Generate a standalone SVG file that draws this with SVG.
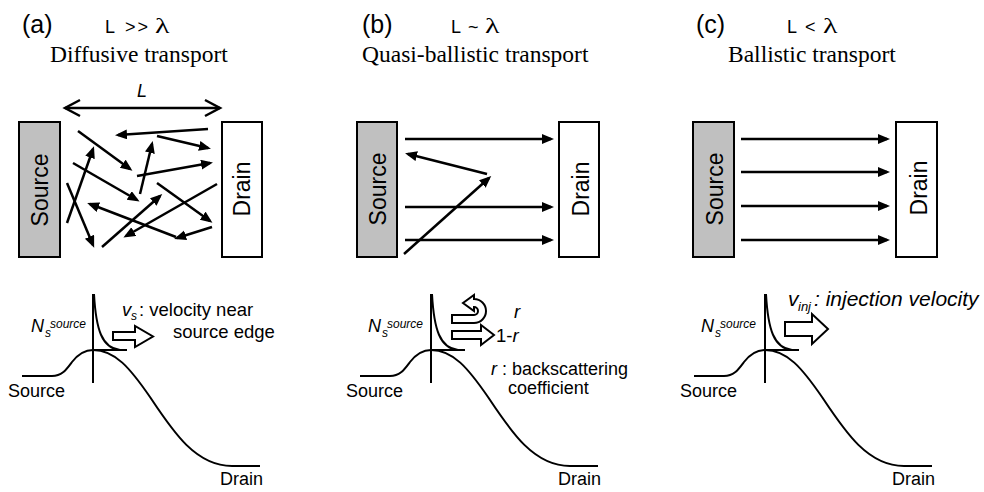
<svg xmlns="http://www.w3.org/2000/svg" width="984" height="492" viewBox="0 0 984 492">
<style>
text{font-family:"Liberation Sans",Arial,sans-serif;fill:#000}
.serif{font-family:"Liberation Serif","Times New Roman",serif;font-size:23.5px}
.it{font-style:italic}
.tag{font-size:25px}
.lt{font-size:18px}
.lam{font-family:"Liberation Serif","Times New Roman",serif;font-size:20px}
.box{stroke:#000;stroke-width:2}
.src{fill:#c0c0c0}
.drn{fill:#fff}
.lab{font-size:23px}
.ar{stroke:#000;stroke-width:2.5;fill:none;marker-end:url(#ah)}
.dim{stroke:#000;stroke-width:2.5;fill:none}
.curve{stroke:#000;stroke-width:2;fill:none}
.hollow{fill:#fff;stroke:#000;stroke-width:2}
.b{font-size:18.5px}
</style>
<defs>
<marker id="ah" markerUnits="userSpaceOnUse" markerWidth="13" markerHeight="11" refX="9" refY="5" orient="auto"><path d="M0,0 L12,5 L0,10 z" fill="#000"/></marker>
<g id="band">
<line x1="93" y1="294" x2="93" y2="383"/>
<path d="M94,294 C96,330 102,348 120,350"/>
<line x1="93" y1="350" x2="127" y2="350"/>
<path d="M22,376 H52 C62,376 66,370 72,362 C79,353 85,350 93,350 C115,350 130,368 150,397 C172,430 195,466 232,466 H260"/>
</g>
</defs>
<rect width="984" height="492" fill="#fff"/>

<!-- titles -->
<g id="titles">
<text class="tag" x="22" y="33">(a)</text>
<text class="lt" x="105" y="33">L</text>
<text class="lt" x="125" y="33" letter-spacing="2">&gt;&gt;</text>
<text class="lam" transform="translate(155,33) scale(1.5,1)">λ</text>
<text class="serif" x="50" y="62">Diffusive transport</text>

<text class="tag" x="362" y="33">(b)</text>
<text class="lt" x="451" y="33">L</text>
<text class="lt" x="468" y="33">~</text>
<text class="lam" transform="translate(485,33) scale(1.5,1)">λ</text>
<text class="serif" x="362" y="62">Quasi-ballistic transport</text>

<text class="tag" x="696" y="33">(c)</text>
<text class="lt" x="787" y="33">L</text>
<text class="lt" x="805" y="33">&lt;</text>
<text class="lam" transform="translate(823,33) scale(1.5,1)">λ</text>
<text class="serif" x="728" y="62">Ballistic transport</text>
</g>

<!-- nodes -->
<g id="source-a"><rect class="box src" x="19" y="122" width="41" height="135"/><text class="lab" text-anchor="middle" transform="translate(48,190) rotate(-90)">Source</text></g>
<g id="drain-a"><rect class="box drn" x="222" y="122" width="40" height="135"/><text class="lab" text-anchor="middle" transform="translate(250,189) rotate(-90)">Drain</text></g>
<g id="source-b"><rect class="box src" x="357" y="122" width="40" height="135"/><text class="lab" text-anchor="middle" transform="translate(386,189) rotate(-90)">Source</text></g>
<g id="drain-b"><rect class="box drn" x="559" y="122" width="40" height="135"/><text class="lab" text-anchor="middle" transform="translate(589,189) rotate(-90)">Drain</text></g>
<g id="source-c"><rect class="box src" x="693" y="122" width="41" height="135"/><text class="lab" text-anchor="middle" transform="translate(723,189) rotate(-90)">Source</text></g>
<g id="drain-c"><rect class="box drn" x="896" y="122" width="41" height="135"/><text class="lab" text-anchor="middle" transform="translate(927,188) rotate(-90)">Drain</text></g>

<!-- connectors -->
<g id="connectors">
<g class="dim">
<path d="M65,108 H220"/>
<path d="M80,100 L65,108 L80,116"/>
<path d="M205,100 L220,108 L205,116"/>
</g>
<text class="it" font-size="18" x="137" y="97">L</text>
<g class="ar">
<line x1="208" y1="129" x2="118" y2="135"/>
<line x1="78" y1="131" x2="130" y2="169"/>
<line x1="157" y1="136" x2="208" y2="148"/>
<line x1="137" y1="176" x2="210" y2="163"/>
<line x1="140" y1="194" x2="152" y2="144"/>
<line x1="73" y1="163" x2="137" y2="200"/>
<line x1="67" y1="223" x2="93" y2="149"/>
<line x1="67" y1="183" x2="93" y2="245"/>
<line x1="102" y1="247" x2="160" y2="196"/>
<line x1="157" y1="183" x2="210" y2="221"/>
<line x1="217" y1="184" x2="126" y2="236"/>
<line x1="212" y1="227" x2="177" y2="238"/>
<line x1="176" y1="237" x2="90" y2="204"/>

<line x1="405" y1="139" x2="551" y2="139"/>
<line x1="487" y1="174" x2="408" y2="154"/>
<line x1="405" y1="207" x2="551" y2="207"/>
<line x1="405" y1="240" x2="551" y2="240"/>
<line x1="404" y1="254" x2="489" y2="178"/>

<line x1="741" y1="139" x2="887" y2="139"/>
<line x1="741" y1="172" x2="887" y2="172"/>
<line x1="741" y1="206" x2="887" y2="206"/>
<line x1="741" y1="240" x2="887" y2="240"/>
</g>
</g>

<!-- bottom band diagrams -->
<g id="bands" class="curve">
<use href="#band"/>
<use href="#band" transform="translate(338,0)"/>
<use href="#band" transform="translate(672,0)"/>
</g>

<g id="band-labels">
<text font-size="18" x="8" y="397">Source</text>
<text font-size="18" x="220" y="485">Drain</text>
<text font-size="18" x="346" y="397">Source</text>
<text font-size="18" x="558" y="485">Drain</text>
<text font-size="18" x="680" y="397">Source</text>
<text font-size="18" x="892" y="485">Drain</text>

<text class="it"><tspan x="31" y="332" font-size="18">N</tspan><tspan x="45" y="337" font-size="12">s</tspan><tspan x="50" y="328" font-size="12">source</tspan></text>
<text class="it"><tspan x="368" y="332" font-size="18">N</tspan><tspan x="382" y="337" font-size="12">s</tspan><tspan x="387" y="328" font-size="12">source</tspan></text>
<text class="it"><tspan x="701" y="332" font-size="18">N</tspan><tspan x="715" y="337" font-size="12">s</tspan><tspan x="720" y="328" font-size="12">source</tspan></text>
</g>

<g id="flux-a">
<path class="hollow" d="M113,332 H135 V326 L153,336.5 L135,347 V340 H113 Z"/>
<text class="b"><tspan class="it" x="122" y="316">v</tspan><tspan class="it" x="131" y="320" font-size="12">s</tspan><tspan x="139" y="316">: velocity near</tspan></text>
<text class="b" x="173" y="338">source edge</text>
</g>

<g id="flux-b">
<path class="hollow" d="M452,315 H474 A4,4 0 0 0 474,307 V311 L463,303 L474,295 V299 A12,12 0 0 1 474,323 H452 Z"/>
<path class="hollow" d="M452,331 H481 V325 L494,335 L481,345 V339 H452 Z"/>
<text class="b it" x="514" y="318">r</text>
<text class="b"><tspan x="496" y="342">1-</tspan><tspan class="it">r</tspan></text>
<text font-size="18"><tspan class="it" x="491" y="375">r</tspan><tspan> : backscattering</tspan></text>
<text font-size="18" x="508" y="394">coefficient</text>
</g>

<g id="flux-c">
<path class="hollow" d="M785,322 H812 V314 L828,329 L812,344 V336 H785 Z"/>
<text class="it"><tspan x="788" y="306" font-size="21">v</tspan><tspan x="798" y="311" font-size="13">inj</tspan><tspan x="814" y="306" font-size="21">: injection velocity</tspan></text>
</g>
</svg>
